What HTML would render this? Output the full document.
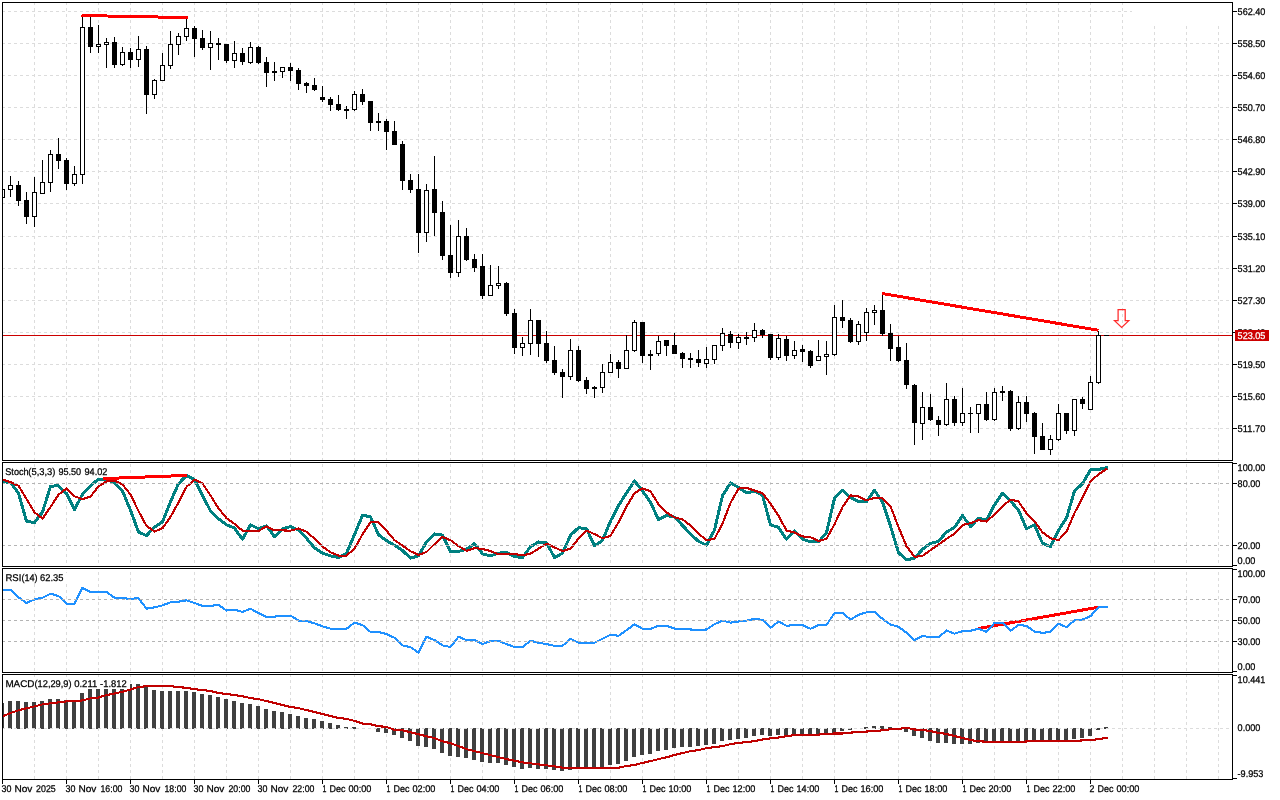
<!DOCTYPE html>
<html><head><meta charset="utf-8"><title>Chart</title>
<style>html,body{margin:0;padding:0;background:#fff;overflow:hidden}svg{display:block;will-change:transform}text{font-family:"Liberation Sans", sans-serif;font-size:9.7px;fill:#000;stroke:#000;stroke-width:0.25px;text-rendering:geometricPrecision}.c{shape-rendering:crispEdges}</style></head><body>
<svg width="1280" height="800" viewBox="0 0 1280 800">
<rect x="0" y="0" width="1280" height="800" fill="#fff"/>
<g id="grid">
<line class="c" x1="34.5" y1="3" x2="34.5" y2="460" stroke="#dcdcdc" stroke-width="1" stroke-dasharray="3 3" stroke-dashoffset="1"/>
<line class="c" x1="66.5" y1="3" x2="66.5" y2="460" stroke="#dcdcdc" stroke-width="1" stroke-dasharray="3 3" stroke-dashoffset="1"/>
<line class="c" x1="98.5" y1="3" x2="98.5" y2="460" stroke="#dcdcdc" stroke-width="1" stroke-dasharray="3 3" stroke-dashoffset="1"/>
<line class="c" x1="130.5" y1="3" x2="130.5" y2="460" stroke="#dcdcdc" stroke-width="1" stroke-dasharray="3 3" stroke-dashoffset="1"/>
<line class="c" x1="162.5" y1="3" x2="162.5" y2="460" stroke="#dcdcdc" stroke-width="1" stroke-dasharray="3 3" stroke-dashoffset="1"/>
<line class="c" x1="194.5" y1="3" x2="194.5" y2="460" stroke="#dcdcdc" stroke-width="1" stroke-dasharray="3 3" stroke-dashoffset="1"/>
<line class="c" x1="226.5" y1="3" x2="226.5" y2="460" stroke="#dcdcdc" stroke-width="1" stroke-dasharray="3 3" stroke-dashoffset="1"/>
<line class="c" x1="258.5" y1="3" x2="258.5" y2="460" stroke="#dcdcdc" stroke-width="1" stroke-dasharray="3 3" stroke-dashoffset="1"/>
<line class="c" x1="290.5" y1="3" x2="290.5" y2="460" stroke="#dcdcdc" stroke-width="1" stroke-dasharray="3 3" stroke-dashoffset="1"/>
<line class="c" x1="322.5" y1="3" x2="322.5" y2="460" stroke="#dcdcdc" stroke-width="1" stroke-dasharray="3 3" stroke-dashoffset="1"/>
<line class="c" x1="354.5" y1="3" x2="354.5" y2="460" stroke="#dcdcdc" stroke-width="1" stroke-dasharray="3 3" stroke-dashoffset="1"/>
<line class="c" x1="386.5" y1="3" x2="386.5" y2="460" stroke="#dcdcdc" stroke-width="1" stroke-dasharray="3 3" stroke-dashoffset="1"/>
<line class="c" x1="418.5" y1="3" x2="418.5" y2="460" stroke="#dcdcdc" stroke-width="1" stroke-dasharray="3 3" stroke-dashoffset="1"/>
<line class="c" x1="450.5" y1="3" x2="450.5" y2="460" stroke="#dcdcdc" stroke-width="1" stroke-dasharray="3 3" stroke-dashoffset="1"/>
<line class="c" x1="482.5" y1="3" x2="482.5" y2="460" stroke="#dcdcdc" stroke-width="1" stroke-dasharray="3 3" stroke-dashoffset="1"/>
<line class="c" x1="514.5" y1="3" x2="514.5" y2="460" stroke="#dcdcdc" stroke-width="1" stroke-dasharray="3 3" stroke-dashoffset="1"/>
<line class="c" x1="546.5" y1="3" x2="546.5" y2="460" stroke="#dcdcdc" stroke-width="1" stroke-dasharray="3 3" stroke-dashoffset="1"/>
<line class="c" x1="578.5" y1="3" x2="578.5" y2="460" stroke="#dcdcdc" stroke-width="1" stroke-dasharray="3 3" stroke-dashoffset="1"/>
<line class="c" x1="610.5" y1="3" x2="610.5" y2="460" stroke="#dcdcdc" stroke-width="1" stroke-dasharray="3 3" stroke-dashoffset="1"/>
<line class="c" x1="642.5" y1="3" x2="642.5" y2="460" stroke="#dcdcdc" stroke-width="1" stroke-dasharray="3 3" stroke-dashoffset="1"/>
<line class="c" x1="674.5" y1="3" x2="674.5" y2="460" stroke="#dcdcdc" stroke-width="1" stroke-dasharray="3 3" stroke-dashoffset="1"/>
<line class="c" x1="706.5" y1="3" x2="706.5" y2="460" stroke="#dcdcdc" stroke-width="1" stroke-dasharray="3 3" stroke-dashoffset="1"/>
<line class="c" x1="738.5" y1="3" x2="738.5" y2="460" stroke="#dcdcdc" stroke-width="1" stroke-dasharray="3 3" stroke-dashoffset="1"/>
<line class="c" x1="770.5" y1="3" x2="770.5" y2="460" stroke="#dcdcdc" stroke-width="1" stroke-dasharray="3 3" stroke-dashoffset="1"/>
<line class="c" x1="802.5" y1="3" x2="802.5" y2="460" stroke="#dcdcdc" stroke-width="1" stroke-dasharray="3 3" stroke-dashoffset="1"/>
<line class="c" x1="834.5" y1="3" x2="834.5" y2="460" stroke="#dcdcdc" stroke-width="1" stroke-dasharray="3 3" stroke-dashoffset="1"/>
<line class="c" x1="866.5" y1="3" x2="866.5" y2="460" stroke="#dcdcdc" stroke-width="1" stroke-dasharray="3 3" stroke-dashoffset="1"/>
<line class="c" x1="898.5" y1="3" x2="898.5" y2="460" stroke="#dcdcdc" stroke-width="1" stroke-dasharray="3 3" stroke-dashoffset="1"/>
<line class="c" x1="930.5" y1="3" x2="930.5" y2="460" stroke="#dcdcdc" stroke-width="1" stroke-dasharray="3 3" stroke-dashoffset="1"/>
<line class="c" x1="962.5" y1="3" x2="962.5" y2="460" stroke="#dcdcdc" stroke-width="1" stroke-dasharray="3 3" stroke-dashoffset="1"/>
<line class="c" x1="994.5" y1="3" x2="994.5" y2="460" stroke="#dcdcdc" stroke-width="1" stroke-dasharray="3 3" stroke-dashoffset="1"/>
<line class="c" x1="1026.5" y1="3" x2="1026.5" y2="460" stroke="#dcdcdc" stroke-width="1" stroke-dasharray="3 3" stroke-dashoffset="1"/>
<line class="c" x1="1058.5" y1="3" x2="1058.5" y2="460" stroke="#dcdcdc" stroke-width="1" stroke-dasharray="3 3" stroke-dashoffset="1"/>
<line class="c" x1="1090.5" y1="3" x2="1090.5" y2="460" stroke="#dcdcdc" stroke-width="1" stroke-dasharray="3 3" stroke-dashoffset="1"/>
<line class="c" x1="1122.5" y1="3" x2="1122.5" y2="460" stroke="#dcdcdc" stroke-width="1" stroke-dasharray="3 3" stroke-dashoffset="1"/>
<line class="c" x1="1154.5" y1="3" x2="1154.5" y2="460" stroke="#dcdcdc" stroke-width="1" stroke-dasharray="3 3" stroke-dashoffset="1"/>
<line class="c" x1="1186.5" y1="3" x2="1186.5" y2="460" stroke="#dcdcdc" stroke-width="1" stroke-dasharray="3 3" stroke-dashoffset="1"/>
<line class="c" x1="1218.5" y1="3" x2="1218.5" y2="460" stroke="#dcdcdc" stroke-width="1" stroke-dasharray="3 3" stroke-dashoffset="1"/>
<line class="c" x1="34.5" y1="463" x2="34.5" y2="566" stroke="#dcdcdc" stroke-width="1" stroke-dasharray="3 3" stroke-dashoffset="5"/>
<line class="c" x1="66.5" y1="463" x2="66.5" y2="566" stroke="#dcdcdc" stroke-width="1" stroke-dasharray="3 3" stroke-dashoffset="5"/>
<line class="c" x1="98.5" y1="463" x2="98.5" y2="566" stroke="#dcdcdc" stroke-width="1" stroke-dasharray="3 3" stroke-dashoffset="5"/>
<line class="c" x1="130.5" y1="463" x2="130.5" y2="566" stroke="#dcdcdc" stroke-width="1" stroke-dasharray="3 3" stroke-dashoffset="5"/>
<line class="c" x1="162.5" y1="463" x2="162.5" y2="566" stroke="#dcdcdc" stroke-width="1" stroke-dasharray="3 3" stroke-dashoffset="5"/>
<line class="c" x1="194.5" y1="463" x2="194.5" y2="566" stroke="#dcdcdc" stroke-width="1" stroke-dasharray="3 3" stroke-dashoffset="5"/>
<line class="c" x1="226.5" y1="463" x2="226.5" y2="566" stroke="#dcdcdc" stroke-width="1" stroke-dasharray="3 3" stroke-dashoffset="5"/>
<line class="c" x1="258.5" y1="463" x2="258.5" y2="566" stroke="#dcdcdc" stroke-width="1" stroke-dasharray="3 3" stroke-dashoffset="5"/>
<line class="c" x1="290.5" y1="463" x2="290.5" y2="566" stroke="#dcdcdc" stroke-width="1" stroke-dasharray="3 3" stroke-dashoffset="5"/>
<line class="c" x1="322.5" y1="463" x2="322.5" y2="566" stroke="#dcdcdc" stroke-width="1" stroke-dasharray="3 3" stroke-dashoffset="5"/>
<line class="c" x1="354.5" y1="463" x2="354.5" y2="566" stroke="#dcdcdc" stroke-width="1" stroke-dasharray="3 3" stroke-dashoffset="5"/>
<line class="c" x1="386.5" y1="463" x2="386.5" y2="566" stroke="#dcdcdc" stroke-width="1" stroke-dasharray="3 3" stroke-dashoffset="5"/>
<line class="c" x1="418.5" y1="463" x2="418.5" y2="566" stroke="#dcdcdc" stroke-width="1" stroke-dasharray="3 3" stroke-dashoffset="5"/>
<line class="c" x1="450.5" y1="463" x2="450.5" y2="566" stroke="#dcdcdc" stroke-width="1" stroke-dasharray="3 3" stroke-dashoffset="5"/>
<line class="c" x1="482.5" y1="463" x2="482.5" y2="566" stroke="#dcdcdc" stroke-width="1" stroke-dasharray="3 3" stroke-dashoffset="5"/>
<line class="c" x1="514.5" y1="463" x2="514.5" y2="566" stroke="#dcdcdc" stroke-width="1" stroke-dasharray="3 3" stroke-dashoffset="5"/>
<line class="c" x1="546.5" y1="463" x2="546.5" y2="566" stroke="#dcdcdc" stroke-width="1" stroke-dasharray="3 3" stroke-dashoffset="5"/>
<line class="c" x1="578.5" y1="463" x2="578.5" y2="566" stroke="#dcdcdc" stroke-width="1" stroke-dasharray="3 3" stroke-dashoffset="5"/>
<line class="c" x1="610.5" y1="463" x2="610.5" y2="566" stroke="#dcdcdc" stroke-width="1" stroke-dasharray="3 3" stroke-dashoffset="5"/>
<line class="c" x1="642.5" y1="463" x2="642.5" y2="566" stroke="#dcdcdc" stroke-width="1" stroke-dasharray="3 3" stroke-dashoffset="5"/>
<line class="c" x1="674.5" y1="463" x2="674.5" y2="566" stroke="#dcdcdc" stroke-width="1" stroke-dasharray="3 3" stroke-dashoffset="5"/>
<line class="c" x1="706.5" y1="463" x2="706.5" y2="566" stroke="#dcdcdc" stroke-width="1" stroke-dasharray="3 3" stroke-dashoffset="5"/>
<line class="c" x1="738.5" y1="463" x2="738.5" y2="566" stroke="#dcdcdc" stroke-width="1" stroke-dasharray="3 3" stroke-dashoffset="5"/>
<line class="c" x1="770.5" y1="463" x2="770.5" y2="566" stroke="#dcdcdc" stroke-width="1" stroke-dasharray="3 3" stroke-dashoffset="5"/>
<line class="c" x1="802.5" y1="463" x2="802.5" y2="566" stroke="#dcdcdc" stroke-width="1" stroke-dasharray="3 3" stroke-dashoffset="5"/>
<line class="c" x1="834.5" y1="463" x2="834.5" y2="566" stroke="#dcdcdc" stroke-width="1" stroke-dasharray="3 3" stroke-dashoffset="5"/>
<line class="c" x1="866.5" y1="463" x2="866.5" y2="566" stroke="#dcdcdc" stroke-width="1" stroke-dasharray="3 3" stroke-dashoffset="5"/>
<line class="c" x1="898.5" y1="463" x2="898.5" y2="566" stroke="#dcdcdc" stroke-width="1" stroke-dasharray="3 3" stroke-dashoffset="5"/>
<line class="c" x1="930.5" y1="463" x2="930.5" y2="566" stroke="#dcdcdc" stroke-width="1" stroke-dasharray="3 3" stroke-dashoffset="5"/>
<line class="c" x1="962.5" y1="463" x2="962.5" y2="566" stroke="#dcdcdc" stroke-width="1" stroke-dasharray="3 3" stroke-dashoffset="5"/>
<line class="c" x1="994.5" y1="463" x2="994.5" y2="566" stroke="#dcdcdc" stroke-width="1" stroke-dasharray="3 3" stroke-dashoffset="5"/>
<line class="c" x1="1026.5" y1="463" x2="1026.5" y2="566" stroke="#dcdcdc" stroke-width="1" stroke-dasharray="3 3" stroke-dashoffset="5"/>
<line class="c" x1="1058.5" y1="463" x2="1058.5" y2="566" stroke="#dcdcdc" stroke-width="1" stroke-dasharray="3 3" stroke-dashoffset="5"/>
<line class="c" x1="1090.5" y1="463" x2="1090.5" y2="566" stroke="#dcdcdc" stroke-width="1" stroke-dasharray="3 3" stroke-dashoffset="5"/>
<line class="c" x1="1122.5" y1="463" x2="1122.5" y2="566" stroke="#dcdcdc" stroke-width="1" stroke-dasharray="3 3" stroke-dashoffset="5"/>
<line class="c" x1="1154.5" y1="463" x2="1154.5" y2="566" stroke="#dcdcdc" stroke-width="1" stroke-dasharray="3 3" stroke-dashoffset="5"/>
<line class="c" x1="1186.5" y1="463" x2="1186.5" y2="566" stroke="#dcdcdc" stroke-width="1" stroke-dasharray="3 3" stroke-dashoffset="5"/>
<line class="c" x1="1218.5" y1="463" x2="1218.5" y2="566" stroke="#dcdcdc" stroke-width="1" stroke-dasharray="3 3" stroke-dashoffset="5"/>
<line class="c" x1="34.5" y1="569" x2="34.5" y2="672" stroke="#dcdcdc" stroke-width="1" stroke-dasharray="3 3" stroke-dashoffset="3"/>
<line class="c" x1="66.5" y1="569" x2="66.5" y2="672" stroke="#dcdcdc" stroke-width="1" stroke-dasharray="3 3" stroke-dashoffset="3"/>
<line class="c" x1="98.5" y1="569" x2="98.5" y2="672" stroke="#dcdcdc" stroke-width="1" stroke-dasharray="3 3" stroke-dashoffset="3"/>
<line class="c" x1="130.5" y1="569" x2="130.5" y2="672" stroke="#dcdcdc" stroke-width="1" stroke-dasharray="3 3" stroke-dashoffset="3"/>
<line class="c" x1="162.5" y1="569" x2="162.5" y2="672" stroke="#dcdcdc" stroke-width="1" stroke-dasharray="3 3" stroke-dashoffset="3"/>
<line class="c" x1="194.5" y1="569" x2="194.5" y2="672" stroke="#dcdcdc" stroke-width="1" stroke-dasharray="3 3" stroke-dashoffset="3"/>
<line class="c" x1="226.5" y1="569" x2="226.5" y2="672" stroke="#dcdcdc" stroke-width="1" stroke-dasharray="3 3" stroke-dashoffset="3"/>
<line class="c" x1="258.5" y1="569" x2="258.5" y2="672" stroke="#dcdcdc" stroke-width="1" stroke-dasharray="3 3" stroke-dashoffset="3"/>
<line class="c" x1="290.5" y1="569" x2="290.5" y2="672" stroke="#dcdcdc" stroke-width="1" stroke-dasharray="3 3" stroke-dashoffset="3"/>
<line class="c" x1="322.5" y1="569" x2="322.5" y2="672" stroke="#dcdcdc" stroke-width="1" stroke-dasharray="3 3" stroke-dashoffset="3"/>
<line class="c" x1="354.5" y1="569" x2="354.5" y2="672" stroke="#dcdcdc" stroke-width="1" stroke-dasharray="3 3" stroke-dashoffset="3"/>
<line class="c" x1="386.5" y1="569" x2="386.5" y2="672" stroke="#dcdcdc" stroke-width="1" stroke-dasharray="3 3" stroke-dashoffset="3"/>
<line class="c" x1="418.5" y1="569" x2="418.5" y2="672" stroke="#dcdcdc" stroke-width="1" stroke-dasharray="3 3" stroke-dashoffset="3"/>
<line class="c" x1="450.5" y1="569" x2="450.5" y2="672" stroke="#dcdcdc" stroke-width="1" stroke-dasharray="3 3" stroke-dashoffset="3"/>
<line class="c" x1="482.5" y1="569" x2="482.5" y2="672" stroke="#dcdcdc" stroke-width="1" stroke-dasharray="3 3" stroke-dashoffset="3"/>
<line class="c" x1="514.5" y1="569" x2="514.5" y2="672" stroke="#dcdcdc" stroke-width="1" stroke-dasharray="3 3" stroke-dashoffset="3"/>
<line class="c" x1="546.5" y1="569" x2="546.5" y2="672" stroke="#dcdcdc" stroke-width="1" stroke-dasharray="3 3" stroke-dashoffset="3"/>
<line class="c" x1="578.5" y1="569" x2="578.5" y2="672" stroke="#dcdcdc" stroke-width="1" stroke-dasharray="3 3" stroke-dashoffset="3"/>
<line class="c" x1="610.5" y1="569" x2="610.5" y2="672" stroke="#dcdcdc" stroke-width="1" stroke-dasharray="3 3" stroke-dashoffset="3"/>
<line class="c" x1="642.5" y1="569" x2="642.5" y2="672" stroke="#dcdcdc" stroke-width="1" stroke-dasharray="3 3" stroke-dashoffset="3"/>
<line class="c" x1="674.5" y1="569" x2="674.5" y2="672" stroke="#dcdcdc" stroke-width="1" stroke-dasharray="3 3" stroke-dashoffset="3"/>
<line class="c" x1="706.5" y1="569" x2="706.5" y2="672" stroke="#dcdcdc" stroke-width="1" stroke-dasharray="3 3" stroke-dashoffset="3"/>
<line class="c" x1="738.5" y1="569" x2="738.5" y2="672" stroke="#dcdcdc" stroke-width="1" stroke-dasharray="3 3" stroke-dashoffset="3"/>
<line class="c" x1="770.5" y1="569" x2="770.5" y2="672" stroke="#dcdcdc" stroke-width="1" stroke-dasharray="3 3" stroke-dashoffset="3"/>
<line class="c" x1="802.5" y1="569" x2="802.5" y2="672" stroke="#dcdcdc" stroke-width="1" stroke-dasharray="3 3" stroke-dashoffset="3"/>
<line class="c" x1="834.5" y1="569" x2="834.5" y2="672" stroke="#dcdcdc" stroke-width="1" stroke-dasharray="3 3" stroke-dashoffset="3"/>
<line class="c" x1="866.5" y1="569" x2="866.5" y2="672" stroke="#dcdcdc" stroke-width="1" stroke-dasharray="3 3" stroke-dashoffset="3"/>
<line class="c" x1="898.5" y1="569" x2="898.5" y2="672" stroke="#dcdcdc" stroke-width="1" stroke-dasharray="3 3" stroke-dashoffset="3"/>
<line class="c" x1="930.5" y1="569" x2="930.5" y2="672" stroke="#dcdcdc" stroke-width="1" stroke-dasharray="3 3" stroke-dashoffset="3"/>
<line class="c" x1="962.5" y1="569" x2="962.5" y2="672" stroke="#dcdcdc" stroke-width="1" stroke-dasharray="3 3" stroke-dashoffset="3"/>
<line class="c" x1="994.5" y1="569" x2="994.5" y2="672" stroke="#dcdcdc" stroke-width="1" stroke-dasharray="3 3" stroke-dashoffset="3"/>
<line class="c" x1="1026.5" y1="569" x2="1026.5" y2="672" stroke="#dcdcdc" stroke-width="1" stroke-dasharray="3 3" stroke-dashoffset="3"/>
<line class="c" x1="1058.5" y1="569" x2="1058.5" y2="672" stroke="#dcdcdc" stroke-width="1" stroke-dasharray="3 3" stroke-dashoffset="3"/>
<line class="c" x1="1090.5" y1="569" x2="1090.5" y2="672" stroke="#dcdcdc" stroke-width="1" stroke-dasharray="3 3" stroke-dashoffset="3"/>
<line class="c" x1="1122.5" y1="569" x2="1122.5" y2="672" stroke="#dcdcdc" stroke-width="1" stroke-dasharray="3 3" stroke-dashoffset="3"/>
<line class="c" x1="1154.5" y1="569" x2="1154.5" y2="672" stroke="#dcdcdc" stroke-width="1" stroke-dasharray="3 3" stroke-dashoffset="3"/>
<line class="c" x1="1186.5" y1="569" x2="1186.5" y2="672" stroke="#dcdcdc" stroke-width="1" stroke-dasharray="3 3" stroke-dashoffset="3"/>
<line class="c" x1="1218.5" y1="569" x2="1218.5" y2="672" stroke="#dcdcdc" stroke-width="1" stroke-dasharray="3 3" stroke-dashoffset="3"/>
<line class="c" x1="34.5" y1="675" x2="34.5" y2="779" stroke="#dcdcdc" stroke-width="1" stroke-dasharray="3 3" stroke-dashoffset="1"/>
<line class="c" x1="66.5" y1="675" x2="66.5" y2="779" stroke="#dcdcdc" stroke-width="1" stroke-dasharray="3 3" stroke-dashoffset="1"/>
<line class="c" x1="98.5" y1="675" x2="98.5" y2="779" stroke="#dcdcdc" stroke-width="1" stroke-dasharray="3 3" stroke-dashoffset="1"/>
<line class="c" x1="130.5" y1="675" x2="130.5" y2="779" stroke="#dcdcdc" stroke-width="1" stroke-dasharray="3 3" stroke-dashoffset="1"/>
<line class="c" x1="162.5" y1="675" x2="162.5" y2="779" stroke="#dcdcdc" stroke-width="1" stroke-dasharray="3 3" stroke-dashoffset="1"/>
<line class="c" x1="194.5" y1="675" x2="194.5" y2="779" stroke="#dcdcdc" stroke-width="1" stroke-dasharray="3 3" stroke-dashoffset="1"/>
<line class="c" x1="226.5" y1="675" x2="226.5" y2="779" stroke="#dcdcdc" stroke-width="1" stroke-dasharray="3 3" stroke-dashoffset="1"/>
<line class="c" x1="258.5" y1="675" x2="258.5" y2="779" stroke="#dcdcdc" stroke-width="1" stroke-dasharray="3 3" stroke-dashoffset="1"/>
<line class="c" x1="290.5" y1="675" x2="290.5" y2="779" stroke="#dcdcdc" stroke-width="1" stroke-dasharray="3 3" stroke-dashoffset="1"/>
<line class="c" x1="322.5" y1="675" x2="322.5" y2="779" stroke="#dcdcdc" stroke-width="1" stroke-dasharray="3 3" stroke-dashoffset="1"/>
<line class="c" x1="354.5" y1="675" x2="354.5" y2="779" stroke="#dcdcdc" stroke-width="1" stroke-dasharray="3 3" stroke-dashoffset="1"/>
<line class="c" x1="386.5" y1="675" x2="386.5" y2="779" stroke="#dcdcdc" stroke-width="1" stroke-dasharray="3 3" stroke-dashoffset="1"/>
<line class="c" x1="418.5" y1="675" x2="418.5" y2="779" stroke="#dcdcdc" stroke-width="1" stroke-dasharray="3 3" stroke-dashoffset="1"/>
<line class="c" x1="450.5" y1="675" x2="450.5" y2="779" stroke="#dcdcdc" stroke-width="1" stroke-dasharray="3 3" stroke-dashoffset="1"/>
<line class="c" x1="482.5" y1="675" x2="482.5" y2="779" stroke="#dcdcdc" stroke-width="1" stroke-dasharray="3 3" stroke-dashoffset="1"/>
<line class="c" x1="514.5" y1="675" x2="514.5" y2="779" stroke="#dcdcdc" stroke-width="1" stroke-dasharray="3 3" stroke-dashoffset="1"/>
<line class="c" x1="546.5" y1="675" x2="546.5" y2="779" stroke="#dcdcdc" stroke-width="1" stroke-dasharray="3 3" stroke-dashoffset="1"/>
<line class="c" x1="578.5" y1="675" x2="578.5" y2="779" stroke="#dcdcdc" stroke-width="1" stroke-dasharray="3 3" stroke-dashoffset="1"/>
<line class="c" x1="610.5" y1="675" x2="610.5" y2="779" stroke="#dcdcdc" stroke-width="1" stroke-dasharray="3 3" stroke-dashoffset="1"/>
<line class="c" x1="642.5" y1="675" x2="642.5" y2="779" stroke="#dcdcdc" stroke-width="1" stroke-dasharray="3 3" stroke-dashoffset="1"/>
<line class="c" x1="674.5" y1="675" x2="674.5" y2="779" stroke="#dcdcdc" stroke-width="1" stroke-dasharray="3 3" stroke-dashoffset="1"/>
<line class="c" x1="706.5" y1="675" x2="706.5" y2="779" stroke="#dcdcdc" stroke-width="1" stroke-dasharray="3 3" stroke-dashoffset="1"/>
<line class="c" x1="738.5" y1="675" x2="738.5" y2="779" stroke="#dcdcdc" stroke-width="1" stroke-dasharray="3 3" stroke-dashoffset="1"/>
<line class="c" x1="770.5" y1="675" x2="770.5" y2="779" stroke="#dcdcdc" stroke-width="1" stroke-dasharray="3 3" stroke-dashoffset="1"/>
<line class="c" x1="802.5" y1="675" x2="802.5" y2="779" stroke="#dcdcdc" stroke-width="1" stroke-dasharray="3 3" stroke-dashoffset="1"/>
<line class="c" x1="834.5" y1="675" x2="834.5" y2="779" stroke="#dcdcdc" stroke-width="1" stroke-dasharray="3 3" stroke-dashoffset="1"/>
<line class="c" x1="866.5" y1="675" x2="866.5" y2="779" stroke="#dcdcdc" stroke-width="1" stroke-dasharray="3 3" stroke-dashoffset="1"/>
<line class="c" x1="898.5" y1="675" x2="898.5" y2="779" stroke="#dcdcdc" stroke-width="1" stroke-dasharray="3 3" stroke-dashoffset="1"/>
<line class="c" x1="930.5" y1="675" x2="930.5" y2="779" stroke="#dcdcdc" stroke-width="1" stroke-dasharray="3 3" stroke-dashoffset="1"/>
<line class="c" x1="962.5" y1="675" x2="962.5" y2="779" stroke="#dcdcdc" stroke-width="1" stroke-dasharray="3 3" stroke-dashoffset="1"/>
<line class="c" x1="994.5" y1="675" x2="994.5" y2="779" stroke="#dcdcdc" stroke-width="1" stroke-dasharray="3 3" stroke-dashoffset="1"/>
<line class="c" x1="1026.5" y1="675" x2="1026.5" y2="779" stroke="#dcdcdc" stroke-width="1" stroke-dasharray="3 3" stroke-dashoffset="1"/>
<line class="c" x1="1058.5" y1="675" x2="1058.5" y2="779" stroke="#dcdcdc" stroke-width="1" stroke-dasharray="3 3" stroke-dashoffset="1"/>
<line class="c" x1="1090.5" y1="675" x2="1090.5" y2="779" stroke="#dcdcdc" stroke-width="1" stroke-dasharray="3 3" stroke-dashoffset="1"/>
<line class="c" x1="1122.5" y1="675" x2="1122.5" y2="779" stroke="#dcdcdc" stroke-width="1" stroke-dasharray="3 3" stroke-dashoffset="1"/>
<line class="c" x1="1154.5" y1="675" x2="1154.5" y2="779" stroke="#dcdcdc" stroke-width="1" stroke-dasharray="3 3" stroke-dashoffset="1"/>
<line class="c" x1="1186.5" y1="675" x2="1186.5" y2="779" stroke="#dcdcdc" stroke-width="1" stroke-dasharray="3 3" stroke-dashoffset="1"/>
<line class="c" x1="1218.5" y1="675" x2="1218.5" y2="779" stroke="#dcdcdc" stroke-width="1" stroke-dasharray="3 3" stroke-dashoffset="1"/>
<line class="c" x1="3" y1="11.5" x2="1232" y2="11.5" stroke="#dcdcdc" stroke-width="1" stroke-dasharray="3 3" stroke-dashoffset="1"/>
<line class="c" x1="3" y1="43.5" x2="1232" y2="43.5" stroke="#dcdcdc" stroke-width="1" stroke-dasharray="3 3" stroke-dashoffset="1"/>
<line class="c" x1="3" y1="75.5" x2="1232" y2="75.5" stroke="#dcdcdc" stroke-width="1" stroke-dasharray="3 3" stroke-dashoffset="1"/>
<line class="c" x1="3" y1="107.5" x2="1232" y2="107.5" stroke="#dcdcdc" stroke-width="1" stroke-dasharray="3 3" stroke-dashoffset="1"/>
<line class="c" x1="3" y1="139.5" x2="1232" y2="139.5" stroke="#dcdcdc" stroke-width="1" stroke-dasharray="3 3" stroke-dashoffset="1"/>
<line class="c" x1="3" y1="171.5" x2="1232" y2="171.5" stroke="#dcdcdc" stroke-width="1" stroke-dasharray="3 3" stroke-dashoffset="1"/>
<line class="c" x1="3" y1="203.5" x2="1232" y2="203.5" stroke="#dcdcdc" stroke-width="1" stroke-dasharray="3 3" stroke-dashoffset="1"/>
<line class="c" x1="3" y1="236.5" x2="1232" y2="236.5" stroke="#dcdcdc" stroke-width="1" stroke-dasharray="3 3" stroke-dashoffset="1"/>
<line class="c" x1="3" y1="268.5" x2="1232" y2="268.5" stroke="#dcdcdc" stroke-width="1" stroke-dasharray="3 3" stroke-dashoffset="1"/>
<line class="c" x1="3" y1="300.5" x2="1232" y2="300.5" stroke="#dcdcdc" stroke-width="1" stroke-dasharray="3 3" stroke-dashoffset="1"/>
<line class="c" x1="3" y1="332.5" x2="1232" y2="332.5" stroke="#dcdcdc" stroke-width="1" stroke-dasharray="3 3" stroke-dashoffset="1"/>
<line class="c" x1="3" y1="364.5" x2="1232" y2="364.5" stroke="#dcdcdc" stroke-width="1" stroke-dasharray="3 3" stroke-dashoffset="1"/>
<line class="c" x1="3" y1="396.5" x2="1232" y2="396.5" stroke="#dcdcdc" stroke-width="1" stroke-dasharray="3 3" stroke-dashoffset="1"/>
<line class="c" x1="3" y1="428.5" x2="1232" y2="428.5" stroke="#dcdcdc" stroke-width="1" stroke-dasharray="3 3" stroke-dashoffset="1"/>
</g>
<rect class="c" x="1132" y="3" width="100" height="23" fill="#fff"/>
<line class="c" x1="3" y1="335.5" x2="1232" y2="335.5" stroke="#cc0000" stroke-width="1"/>
<g id="candles" class="c">
<clipPath id="cm"><rect x="3" y="3" width="1229" height="457"/></clipPath>
<g clip-path="url(#cm)">
<rect x="2" y="189" width="1" height="9" fill="#000"/>
<rect x="0" y="189" width="5" height="9" fill="#000"/>
<rect x="1" y="190" width="3" height="7" fill="#fff"/>
<rect x="10" y="176" width="1" height="21" fill="#000"/>
<rect x="8" y="185" width="5" height="5" fill="#000"/>
<rect x="9" y="186" width="3" height="3" fill="#fff"/>
<rect x="18" y="181" width="1" height="25" fill="#000"/>
<rect x="16" y="185" width="5" height="16" fill="#000"/>
<rect x="26" y="192" width="1" height="32" fill="#000"/>
<rect x="24" y="200" width="5" height="17" fill="#000"/>
<rect x="34" y="177" width="1" height="50" fill="#000"/>
<rect x="32" y="192" width="5" height="25" fill="#000"/>
<rect x="33" y="193" width="3" height="23" fill="#fff"/>
<rect x="42" y="160" width="1" height="34" fill="#000"/>
<rect x="40" y="182" width="5" height="12" fill="#000"/>
<rect x="41" y="183" width="3" height="10" fill="#fff"/>
<rect x="50" y="150" width="1" height="42" fill="#000"/>
<rect x="48" y="154" width="5" height="29" fill="#000"/>
<rect x="49" y="155" width="3" height="27" fill="#fff"/>
<rect x="58" y="138" width="1" height="31" fill="#000"/>
<rect x="56" y="154" width="5" height="7" fill="#000"/>
<rect x="66" y="158" width="1" height="32" fill="#000"/>
<rect x="64" y="160" width="5" height="24" fill="#000"/>
<rect x="74" y="166" width="1" height="20" fill="#000"/>
<rect x="72" y="174" width="5" height="10" fill="#000"/>
<rect x="73" y="175" width="3" height="8" fill="#fff"/>
<rect x="82" y="15" width="1" height="169" fill="#000"/>
<rect x="80" y="27" width="5" height="148" fill="#000"/>
<rect x="81" y="28" width="3" height="146" fill="#fff"/>
<rect x="90" y="15" width="1" height="38" fill="#000"/>
<rect x="88" y="27" width="5" height="20" fill="#000"/>
<rect x="98" y="25" width="1" height="28" fill="#000"/>
<rect x="96" y="44" width="5" height="3" fill="#000"/>
<rect x="97" y="45" width="3" height="1" fill="#fff"/>
<rect x="106" y="38" width="1" height="30" fill="#000"/>
<rect x="104" y="42" width="5" height="3" fill="#000"/>
<rect x="105" y="43" width="3" height="1" fill="#fff"/>
<rect x="114" y="37" width="1" height="31" fill="#000"/>
<rect x="112" y="42" width="5" height="23" fill="#000"/>
<rect x="122" y="47" width="1" height="19" fill="#000"/>
<rect x="120" y="52" width="5" height="13" fill="#000"/>
<rect x="121" y="53" width="3" height="11" fill="#fff"/>
<rect x="130" y="48" width="1" height="20" fill="#000"/>
<rect x="128" y="52" width="5" height="8" fill="#000"/>
<rect x="138" y="36" width="1" height="31" fill="#000"/>
<rect x="136" y="49" width="5" height="11" fill="#000"/>
<rect x="137" y="50" width="3" height="9" fill="#fff"/>
<rect x="146" y="46" width="1" height="68" fill="#000"/>
<rect x="144" y="49" width="5" height="46" fill="#000"/>
<rect x="154" y="79" width="1" height="20" fill="#000"/>
<rect x="152" y="80" width="5" height="15" fill="#000"/>
<rect x="153" y="81" width="3" height="13" fill="#fff"/>
<rect x="162" y="53" width="1" height="28" fill="#000"/>
<rect x="160" y="65" width="5" height="16" fill="#000"/>
<rect x="161" y="66" width="3" height="14" fill="#fff"/>
<rect x="170" y="31" width="1" height="38" fill="#000"/>
<rect x="168" y="44" width="5" height="22" fill="#000"/>
<rect x="169" y="45" width="3" height="20" fill="#fff"/>
<rect x="178" y="33" width="1" height="22" fill="#000"/>
<rect x="176" y="36" width="5" height="9" fill="#000"/>
<rect x="177" y="37" width="3" height="7" fill="#fff"/>
<rect x="186" y="17" width="1" height="24" fill="#000"/>
<rect x="184" y="28" width="5" height="9" fill="#000"/>
<rect x="185" y="29" width="3" height="7" fill="#fff"/>
<rect x="194" y="26" width="1" height="31" fill="#000"/>
<rect x="192" y="28" width="5" height="11" fill="#000"/>
<rect x="202" y="30" width="1" height="20" fill="#000"/>
<rect x="200" y="38" width="5" height="10" fill="#000"/>
<rect x="210" y="31" width="1" height="39" fill="#000"/>
<rect x="208" y="43" width="5" height="5" fill="#000"/>
<rect x="209" y="44" width="3" height="3" fill="#fff"/>
<rect x="218" y="38" width="1" height="22" fill="#000"/>
<rect x="216" y="43" width="5" height="2" fill="#000"/>
<rect x="226" y="44" width="1" height="19" fill="#000"/>
<rect x="224" y="44" width="5" height="17" fill="#000"/>
<rect x="234" y="41" width="1" height="27" fill="#000"/>
<rect x="232" y="53" width="5" height="8" fill="#000"/>
<rect x="233" y="54" width="3" height="6" fill="#fff"/>
<rect x="242" y="48" width="1" height="17" fill="#000"/>
<rect x="240" y="53" width="5" height="9" fill="#000"/>
<rect x="250" y="42" width="1" height="22" fill="#000"/>
<rect x="248" y="47" width="5" height="16" fill="#000"/>
<rect x="249" y="48" width="3" height="14" fill="#fff"/>
<rect x="258" y="46" width="1" height="18" fill="#000"/>
<rect x="256" y="47" width="5" height="16" fill="#000"/>
<rect x="266" y="57" width="1" height="30" fill="#000"/>
<rect x="264" y="62" width="5" height="11" fill="#000"/>
<rect x="274" y="62" width="1" height="19" fill="#000"/>
<rect x="272" y="71" width="5" height="2" fill="#000"/>
<rect x="282" y="67" width="1" height="11" fill="#000"/>
<rect x="280" y="67" width="5" height="5" fill="#000"/>
<rect x="281" y="68" width="3" height="3" fill="#fff"/>
<rect x="290" y="63" width="1" height="18" fill="#000"/>
<rect x="288" y="67" width="5" height="4" fill="#000"/>
<rect x="298" y="68" width="1" height="22" fill="#000"/>
<rect x="296" y="70" width="5" height="14" fill="#000"/>
<rect x="306" y="82" width="1" height="11" fill="#000"/>
<rect x="304" y="83" width="5" height="3" fill="#000"/>
<rect x="314" y="78" width="1" height="13" fill="#000"/>
<rect x="312" y="85" width="5" height="5" fill="#000"/>
<rect x="322" y="86" width="1" height="16" fill="#000"/>
<rect x="320" y="97" width="5" height="3" fill="#000"/>
<rect x="330" y="97" width="1" height="14" fill="#000"/>
<rect x="328" y="99" width="5" height="6" fill="#000"/>
<rect x="338" y="95" width="1" height="16" fill="#000"/>
<rect x="336" y="104" width="5" height="6" fill="#000"/>
<rect x="346" y="106" width="1" height="13" fill="#000"/>
<rect x="344" y="109" width="5" height="2" fill="#000"/>
<rect x="354" y="91" width="1" height="20" fill="#000"/>
<rect x="352" y="94" width="5" height="16" fill="#000"/>
<rect x="353" y="95" width="3" height="14" fill="#fff"/>
<rect x="362" y="89" width="1" height="16" fill="#000"/>
<rect x="360" y="94" width="5" height="8" fill="#000"/>
<rect x="370" y="101" width="1" height="30" fill="#000"/>
<rect x="368" y="101" width="5" height="22" fill="#000"/>
<rect x="378" y="113" width="1" height="18" fill="#000"/>
<rect x="376" y="121" width="5" height="2" fill="#000"/>
<rect x="386" y="119" width="1" height="31" fill="#000"/>
<rect x="384" y="121" width="5" height="11" fill="#000"/>
<rect x="394" y="121" width="1" height="24" fill="#000"/>
<rect x="392" y="131" width="5" height="14" fill="#000"/>
<rect x="402" y="141" width="1" height="49" fill="#000"/>
<rect x="400" y="144" width="5" height="37" fill="#000"/>
<rect x="410" y="174" width="1" height="19" fill="#000"/>
<rect x="408" y="180" width="5" height="10" fill="#000"/>
<rect x="418" y="174" width="1" height="79" fill="#000"/>
<rect x="416" y="189" width="5" height="44" fill="#000"/>
<rect x="426" y="184" width="1" height="58" fill="#000"/>
<rect x="424" y="190" width="5" height="43" fill="#000"/>
<rect x="425" y="191" width="3" height="41" fill="#fff"/>
<rect x="434" y="156" width="1" height="80" fill="#000"/>
<rect x="432" y="189" width="5" height="24" fill="#000"/>
<rect x="442" y="201" width="1" height="59" fill="#000"/>
<rect x="440" y="212" width="5" height="44" fill="#000"/>
<rect x="450" y="225" width="1" height="53" fill="#000"/>
<rect x="448" y="255" width="5" height="18" fill="#000"/>
<rect x="458" y="220" width="1" height="57" fill="#000"/>
<rect x="456" y="236" width="5" height="37" fill="#000"/>
<rect x="457" y="237" width="3" height="35" fill="#fff"/>
<rect x="466" y="228" width="1" height="33" fill="#000"/>
<rect x="464" y="236" width="5" height="24" fill="#000"/>
<rect x="474" y="254" width="1" height="18" fill="#000"/>
<rect x="472" y="259" width="5" height="9" fill="#000"/>
<rect x="482" y="254" width="1" height="45" fill="#000"/>
<rect x="480" y="266" width="5" height="30" fill="#000"/>
<rect x="490" y="265" width="1" height="31" fill="#000"/>
<rect x="488" y="285" width="5" height="11" fill="#000"/>
<rect x="489" y="286" width="3" height="9" fill="#fff"/>
<rect x="498" y="266" width="1" height="23" fill="#000"/>
<rect x="496" y="283" width="5" height="3" fill="#000"/>
<rect x="497" y="284" width="3" height="1" fill="#fff"/>
<rect x="506" y="282" width="1" height="34" fill="#000"/>
<rect x="504" y="283" width="5" height="31" fill="#000"/>
<rect x="514" y="309" width="1" height="45" fill="#000"/>
<rect x="512" y="313" width="5" height="35" fill="#000"/>
<rect x="522" y="337" width="1" height="19" fill="#000"/>
<rect x="520" y="343" width="5" height="5" fill="#000"/>
<rect x="521" y="344" width="3" height="3" fill="#fff"/>
<rect x="530" y="309" width="1" height="46" fill="#000"/>
<rect x="528" y="320" width="5" height="24" fill="#000"/>
<rect x="529" y="321" width="3" height="22" fill="#fff"/>
<rect x="538" y="320" width="1" height="37" fill="#000"/>
<rect x="536" y="320" width="5" height="24" fill="#000"/>
<rect x="546" y="331" width="1" height="32" fill="#000"/>
<rect x="544" y="343" width="5" height="18" fill="#000"/>
<rect x="554" y="346" width="1" height="29" fill="#000"/>
<rect x="552" y="360" width="5" height="13" fill="#000"/>
<rect x="562" y="369" width="1" height="29" fill="#000"/>
<rect x="560" y="372" width="5" height="5" fill="#000"/>
<rect x="570" y="339" width="1" height="41" fill="#000"/>
<rect x="568" y="350" width="5" height="27" fill="#000"/>
<rect x="569" y="351" width="3" height="25" fill="#fff"/>
<rect x="578" y="346" width="1" height="36" fill="#000"/>
<rect x="576" y="350" width="5" height="31" fill="#000"/>
<rect x="586" y="377" width="1" height="17" fill="#000"/>
<rect x="584" y="380" width="5" height="9" fill="#000"/>
<rect x="594" y="386" width="1" height="12" fill="#000"/>
<rect x="592" y="387" width="5" height="2" fill="#000"/>
<rect x="602" y="364" width="1" height="29" fill="#000"/>
<rect x="600" y="372" width="5" height="16" fill="#000"/>
<rect x="601" y="373" width="3" height="14" fill="#fff"/>
<rect x="610" y="354" width="1" height="19" fill="#000"/>
<rect x="608" y="362" width="5" height="11" fill="#000"/>
<rect x="609" y="363" width="3" height="9" fill="#fff"/>
<rect x="618" y="360" width="1" height="18" fill="#000"/>
<rect x="616" y="362" width="5" height="7" fill="#000"/>
<rect x="626" y="335" width="1" height="34" fill="#000"/>
<rect x="624" y="350" width="5" height="19" fill="#000"/>
<rect x="625" y="351" width="3" height="17" fill="#fff"/>
<rect x="634" y="320" width="1" height="32" fill="#000"/>
<rect x="632" y="322" width="5" height="29" fill="#000"/>
<rect x="633" y="323" width="3" height="27" fill="#fff"/>
<rect x="642" y="322" width="1" height="41" fill="#000"/>
<rect x="640" y="322" width="5" height="34" fill="#000"/>
<rect x="650" y="350" width="1" height="20" fill="#000"/>
<rect x="648" y="354" width="5" height="2" fill="#000"/>
<rect x="658" y="336" width="1" height="20" fill="#000"/>
<rect x="656" y="341" width="5" height="13" fill="#000"/>
<rect x="657" y="342" width="3" height="11" fill="#fff"/>
<rect x="666" y="340" width="1" height="16" fill="#000"/>
<rect x="664" y="340" width="5" height="6" fill="#000"/>
<rect x="674" y="333" width="1" height="21" fill="#000"/>
<rect x="672" y="345" width="5" height="9" fill="#000"/>
<rect x="682" y="352" width="1" height="16" fill="#000"/>
<rect x="680" y="353" width="5" height="6" fill="#000"/>
<rect x="690" y="353" width="1" height="15" fill="#000"/>
<rect x="688" y="358" width="5" height="2" fill="#000"/>
<rect x="698" y="350" width="1" height="17" fill="#000"/>
<rect x="696" y="359" width="5" height="4" fill="#000"/>
<rect x="706" y="347" width="1" height="21" fill="#000"/>
<rect x="704" y="359" width="5" height="5" fill="#000"/>
<rect x="705" y="360" width="3" height="3" fill="#fff"/>
<rect x="714" y="345" width="1" height="19" fill="#000"/>
<rect x="712" y="345" width="5" height="15" fill="#000"/>
<rect x="713" y="346" width="3" height="13" fill="#fff"/>
<rect x="722" y="328" width="1" height="23" fill="#000"/>
<rect x="720" y="333" width="5" height="13" fill="#000"/>
<rect x="721" y="334" width="3" height="11" fill="#fff"/>
<rect x="730" y="331" width="1" height="17" fill="#000"/>
<rect x="728" y="334" width="5" height="9" fill="#000"/>
<rect x="738" y="334" width="1" height="15" fill="#000"/>
<rect x="736" y="337" width="5" height="6" fill="#000"/>
<rect x="737" y="338" width="3" height="4" fill="#fff"/>
<rect x="746" y="332" width="1" height="13" fill="#000"/>
<rect x="744" y="337" width="5" height="2" fill="#000"/>
<rect x="754" y="323" width="1" height="19" fill="#000"/>
<rect x="752" y="330" width="5" height="8" fill="#000"/>
<rect x="753" y="331" width="3" height="6" fill="#fff"/>
<rect x="762" y="329" width="1" height="9" fill="#000"/>
<rect x="760" y="330" width="5" height="5" fill="#000"/>
<rect x="770" y="334" width="1" height="26" fill="#000"/>
<rect x="768" y="334" width="5" height="24" fill="#000"/>
<rect x="778" y="334" width="1" height="26" fill="#000"/>
<rect x="776" y="338" width="5" height="20" fill="#000"/>
<rect x="777" y="339" width="3" height="18" fill="#fff"/>
<rect x="786" y="336" width="1" height="25" fill="#000"/>
<rect x="784" y="339" width="5" height="17" fill="#000"/>
<rect x="794" y="341" width="1" height="18" fill="#000"/>
<rect x="792" y="350" width="5" height="6" fill="#000"/>
<rect x="793" y="351" width="3" height="4" fill="#fff"/>
<rect x="802" y="345" width="1" height="17" fill="#000"/>
<rect x="800" y="349" width="5" height="3" fill="#000"/>
<rect x="810" y="350" width="1" height="18" fill="#000"/>
<rect x="808" y="351" width="5" height="15" fill="#000"/>
<rect x="818" y="340" width="1" height="21" fill="#000"/>
<rect x="816" y="356" width="5" height="5" fill="#000"/>
<rect x="817" y="357" width="3" height="3" fill="#fff"/>
<rect x="826" y="341" width="1" height="34" fill="#000"/>
<rect x="824" y="354" width="5" height="3" fill="#000"/>
<rect x="825" y="355" width="3" height="1" fill="#fff"/>
<rect x="834" y="305" width="1" height="51" fill="#000"/>
<rect x="832" y="317" width="5" height="38" fill="#000"/>
<rect x="833" y="318" width="3" height="36" fill="#fff"/>
<rect x="842" y="300" width="1" height="28" fill="#000"/>
<rect x="840" y="317" width="5" height="4" fill="#000"/>
<rect x="850" y="318" width="1" height="25" fill="#000"/>
<rect x="848" y="320" width="5" height="22" fill="#000"/>
<rect x="858" y="321" width="1" height="24" fill="#000"/>
<rect x="856" y="324" width="5" height="18" fill="#000"/>
<rect x="857" y="325" width="3" height="16" fill="#fff"/>
<rect x="866" y="308" width="1" height="33" fill="#000"/>
<rect x="864" y="312" width="5" height="21" fill="#000"/>
<rect x="865" y="313" width="3" height="19" fill="#fff"/>
<rect x="874" y="305" width="1" height="20" fill="#000"/>
<rect x="872" y="310" width="5" height="3" fill="#000"/>
<rect x="873" y="311" width="3" height="1" fill="#fff"/>
<rect x="882" y="293" width="1" height="43" fill="#000"/>
<rect x="880" y="310" width="5" height="24" fill="#000"/>
<rect x="890" y="324" width="1" height="37" fill="#000"/>
<rect x="888" y="333" width="5" height="16" fill="#000"/>
<rect x="898" y="336" width="1" height="26" fill="#000"/>
<rect x="896" y="347" width="5" height="14" fill="#000"/>
<rect x="906" y="343" width="1" height="46" fill="#000"/>
<rect x="904" y="360" width="5" height="25" fill="#000"/>
<rect x="914" y="384" width="1" height="61" fill="#000"/>
<rect x="912" y="385" width="5" height="38" fill="#000"/>
<rect x="922" y="392" width="1" height="48" fill="#000"/>
<rect x="920" y="407" width="5" height="17" fill="#000"/>
<rect x="921" y="408" width="3" height="15" fill="#fff"/>
<rect x="930" y="394" width="1" height="27" fill="#000"/>
<rect x="928" y="407" width="5" height="13" fill="#000"/>
<rect x="938" y="416" width="1" height="20" fill="#000"/>
<rect x="936" y="420" width="5" height="5" fill="#000"/>
<rect x="946" y="383" width="1" height="43" fill="#000"/>
<rect x="944" y="399" width="5" height="26" fill="#000"/>
<rect x="945" y="400" width="3" height="24" fill="#fff"/>
<rect x="954" y="396" width="1" height="30" fill="#000"/>
<rect x="952" y="399" width="5" height="24" fill="#000"/>
<rect x="962" y="388" width="1" height="38" fill="#000"/>
<rect x="960" y="413" width="5" height="10" fill="#000"/>
<rect x="961" y="414" width="3" height="8" fill="#fff"/>
<rect x="970" y="407" width="1" height="26" fill="#000"/>
<rect x="968" y="413" width="5" height="1" fill="#000"/>
<rect x="978" y="404" width="1" height="29" fill="#000"/>
<rect x="976" y="404" width="5" height="10" fill="#000"/>
<rect x="977" y="405" width="3" height="8" fill="#fff"/>
<rect x="986" y="392" width="1" height="29" fill="#000"/>
<rect x="984" y="404" width="5" height="16" fill="#000"/>
<rect x="994" y="388" width="1" height="33" fill="#000"/>
<rect x="992" y="392" width="5" height="28" fill="#000"/>
<rect x="993" y="393" width="3" height="26" fill="#fff"/>
<rect x="1002" y="386" width="1" height="15" fill="#000"/>
<rect x="1000" y="391" width="5" height="2" fill="#000"/>
<rect x="1010" y="390" width="1" height="41" fill="#000"/>
<rect x="1008" y="391" width="5" height="38" fill="#000"/>
<rect x="1018" y="396" width="1" height="34" fill="#000"/>
<rect x="1016" y="402" width="5" height="27" fill="#000"/>
<rect x="1017" y="403" width="3" height="25" fill="#fff"/>
<rect x="1026" y="396" width="1" height="26" fill="#000"/>
<rect x="1024" y="402" width="5" height="12" fill="#000"/>
<rect x="1034" y="412" width="1" height="42" fill="#000"/>
<rect x="1032" y="413" width="5" height="24" fill="#000"/>
<rect x="1042" y="423" width="1" height="27" fill="#000"/>
<rect x="1040" y="436" width="5" height="14" fill="#000"/>
<rect x="1050" y="435" width="1" height="20" fill="#000"/>
<rect x="1048" y="439" width="5" height="11" fill="#000"/>
<rect x="1049" y="440" width="3" height="9" fill="#fff"/>
<rect x="1058" y="404" width="1" height="37" fill="#000"/>
<rect x="1056" y="413" width="5" height="27" fill="#000"/>
<rect x="1057" y="414" width="3" height="25" fill="#fff"/>
<rect x="1066" y="413" width="1" height="21" fill="#000"/>
<rect x="1064" y="413" width="5" height="18" fill="#000"/>
<rect x="1074" y="399" width="1" height="37" fill="#000"/>
<rect x="1072" y="399" width="5" height="32" fill="#000"/>
<rect x="1073" y="400" width="3" height="30" fill="#fff"/>
<rect x="1082" y="397" width="1" height="12" fill="#000"/>
<rect x="1080" y="399" width="5" height="5" fill="#000"/>
<rect x="1090" y="376" width="1" height="34" fill="#000"/>
<rect x="1088" y="382" width="5" height="28" fill="#000"/>
<rect x="1089" y="383" width="3" height="26" fill="#fff"/>
<rect x="1098" y="331" width="1" height="53" fill="#000"/>
<rect x="1096" y="335" width="5" height="48" fill="#000"/>
<rect x="1097" y="336" width="3" height="46" fill="#fff"/>
<rect x="1104" y="335" width="5" height="1" fill="#000"/>
</g></g>
<line class="c" x1="81.5" y1="15.5" x2="188.0" y2="17.6" stroke="#ff0000" stroke-width="3.0"/>
<line class="c" x1="882.0" y1="293.5" x2="1098.5" y2="330.3" stroke="#ff0000" stroke-width="3.0"/>
<path d="M1118.1 309.6 H1125.2 V320.6 H1128.8 L1121.65 327.5 L1114.5 320.6 H1118.1 Z" fill="none" stroke="#ff2a2a" stroke-width="1.25" stroke-linejoin="miter"/>
<clipPath id="c1"><rect x="3" y="463" width="1229" height="103"/></clipPath>
<g clip-path="url(#c1)">
<polyline class="c" points="2.5,481.7 10.5,482.4 18.5,493.0 26.5,521.3 34.5,522.5 42.5,512.1 50.5,486.3 58.5,485.7 66.5,493.6 74.5,509.5 82.5,494.3 90.5,485.7 98.5,479.1 106.5,479.7 114.5,482.4 122.5,491.0 130.5,510.2 138.5,532.0 146.5,535.6 154.5,527.0 162.5,522.0 170.5,501.6 178.5,483.7 186.5,475.5 194.5,479.7 202.5,495.6 210.5,510.8 218.5,518.8 226.5,524.8 234.5,528.1 242.5,539.3 250.5,524.8 258.5,528.7 266.5,525.8 274.5,536.7 282.5,528.7 290.5,526.7 298.5,530.0 306.5,538.3 314.5,547.9 322.5,553.2 330.5,555.9 338.5,557.6 346.5,553.2 354.5,534.7 362.5,515.2 370.5,516.8 378.5,534.7 386.5,540.6 394.5,545.3 402.5,550.6 410.5,558.1 418.5,555.9 426.5,542.0 434.5,534.0 442.5,535.1 450.5,551.5 458.5,551.5 466.5,549.3 474.5,543.6 482.5,553.9 490.5,555.9 498.5,553.2 506.5,552.2 514.5,556.5 522.5,557.6 530.5,546.6 538.5,542.0 546.5,542.6 554.5,557.6 562.5,553.2 570.5,535.3 578.5,527.7 586.5,528.7 594.5,545.9 602.5,540.3 610.5,521.1 618.5,505.5 626.5,493.0 634.5,481.0 642.5,491.0 650.5,502.2 658.5,519.7 666.5,515.5 674.5,517.1 682.5,525.4 690.5,534.0 698.5,541.3 706.5,545.3 714.5,530.0 722.5,495.6 730.5,483.0 738.5,487.3 746.5,493.0 754.5,491.0 762.5,495.3 770.5,524.8 778.5,527.4 786.5,539.3 794.5,530.7 802.5,539.3 810.5,541.7 818.5,542.0 826.5,532.7 834.5,498.3 842.5,490.3 850.5,497.6 858.5,501.6 866.5,501.6 874.5,490.3 882.5,502.2 890.5,526.1 898.5,552.6 906.5,559.9 914.5,558.1 922.5,549.3 930.5,543.3 938.5,541.3 946.5,532.0 954.5,527.4 962.5,515.5 970.5,526.7 978.5,518.1 986.5,520.1 994.5,504.9 1002.5,493.2 1010.5,500.9 1018.5,510.2 1026.5,528.7 1034.5,524.8 1042.5,543.3 1050.5,546.6 1058.5,530.3 1066.5,518.1 1074.5,491.0 1082.5,483.7 1090.5,469.8 1098.5,469.4 1106.5,467.8" fill="none" stroke="#008080" stroke-width="3.00" stroke-linejoin="round" stroke-linecap="square" />
<polyline class="c" points="2.5,479.5 10.5,482.1 18.5,485.7 26.5,498.9 34.5,512.3 42.5,518.6 50.5,507.0 58.5,494.7 66.5,488.5 74.5,496.3 82.5,499.1 90.5,496.5 98.5,486.4 106.5,481.5 114.5,480.4 122.5,484.4 130.5,494.5 138.5,511.1 146.5,525.9 154.5,531.5 162.5,528.2 170.5,516.9 178.5,502.4 186.5,486.9 194.5,479.6 202.5,483.6 210.5,495.4 218.5,508.4 226.5,518.1 234.5,523.9 242.5,530.7 250.5,530.7 258.5,530.9 266.5,526.4 274.5,530.4 282.5,530.4 290.5,530.7 298.5,528.5 306.5,531.7 314.5,538.7 322.5,546.5 330.5,552.3 338.5,555.6 346.5,555.6 354.5,548.5 362.5,534.4 370.5,522.2 378.5,522.2 386.5,530.7 394.5,540.2 402.5,545.5 410.5,551.3 418.5,554.9 426.5,552.0 434.5,544.0 442.5,537.0 450.5,540.2 458.5,546.0 466.5,550.8 474.5,548.1 482.5,548.9 490.5,551.1 498.5,554.3 506.5,553.8 514.5,554.0 522.5,555.4 530.5,553.6 538.5,548.7 546.5,543.7 554.5,547.4 562.5,551.1 570.5,548.7 578.5,538.7 586.5,530.6 594.5,534.1 602.5,538.3 610.5,535.8 618.5,522.3 626.5,506.5 634.5,493.2 642.5,488.3 650.5,491.4 658.5,504.3 666.5,512.5 674.5,517.4 682.5,519.3 690.5,525.5 698.5,533.6 706.5,540.2 714.5,538.9 722.5,523.6 730.5,502.9 738.5,488.6 746.5,487.8 754.5,490.4 762.5,493.1 770.5,503.7 778.5,515.8 786.5,530.5 794.5,532.5 802.5,536.4 810.5,537.2 818.5,541.0 826.5,538.8 834.5,524.3 842.5,507.1 850.5,495.4 858.5,496.5 866.5,500.3 874.5,497.8 882.5,498.0 890.5,506.2 898.5,527.0 906.5,546.2 914.5,556.9 922.5,555.8 930.5,550.2 938.5,544.6 946.5,538.9 954.5,533.6 962.5,525.0 970.5,523.2 978.5,520.1 986.5,521.6 994.5,514.4 1002.5,506.1 1010.5,499.7 1018.5,501.4 1026.5,513.3 1034.5,521.2 1042.5,532.3 1050.5,538.2 1058.5,540.1 1066.5,531.7 1074.5,513.1 1082.5,497.6 1090.5,481.5 1098.5,474.3 1106.5,469.0" fill="none" stroke="#c00000" stroke-width="2.10" stroke-linejoin="round" stroke-linecap="square" />
<line class="c" x1="103.0" y1="478.6" x2="187.0" y2="475.4" stroke="#ff0000" stroke-width="3.0"/>
</g>
<line class="c" x1="3" y1="483.5" x2="1232" y2="483.5" stroke="#b4b4b4" stroke-width="1" stroke-dasharray="3 3" stroke-dashoffset="1"/>
<line class="c" x1="3" y1="545.5" x2="1232" y2="545.5" stroke="#b4b4b4" stroke-width="1" stroke-dasharray="3 3" stroke-dashoffset="1"/>
<clipPath id="c2"><rect x="3" y="569" width="1229" height="103"/></clipPath>
<g clip-path="url(#c2)">
<line class="c" x1="978.0" y1="628.6" x2="1099.0" y2="607.1" stroke="#ff0000" stroke-width="3.0"/>
<polyline class="c" points="2.5,589.8 10.5,589.8 18.5,597.3 26.5,603.0 34.5,599.4 42.5,597.7 50.5,593.7 58.5,596.0 66.5,603.7 74.5,603.7 82.5,587.8 90.5,592.0 98.5,592.0 106.5,592.0 114.5,597.7 122.5,598.0 130.5,599.0 138.5,598.1 146.5,608.7 154.5,607.4 162.5,605.4 170.5,602.3 178.5,601.7 186.5,600.4 194.5,603.0 202.5,605.9 210.5,605.9 218.5,605.0 226.5,610.5 234.5,609.6 242.5,611.9 250.5,608.7 258.5,613.2 266.5,616.9 274.5,616.6 282.5,615.6 290.5,615.6 298.5,620.6 306.5,621.1 314.5,623.3 322.5,626.4 330.5,628.6 338.5,628.8 346.5,628.8 354.5,622.6 362.5,625.1 370.5,631.9 378.5,631.9 386.5,634.1 394.5,637.7 402.5,645.4 410.5,647.1 418.5,652.7 426.5,636.8 434.5,640.1 442.5,645.4 450.5,647.0 458.5,636.8 466.5,640.1 474.5,640.1 482.5,644.1 490.5,641.1 498.5,640.7 506.5,644.1 514.5,647.0 522.5,647.0 530.5,640.7 538.5,642.7 546.5,644.1 554.5,645.8 562.5,645.8 570.5,638.8 578.5,642.7 586.5,642.7 594.5,642.7 602.5,638.8 610.5,634.7 618.5,635.8 626.5,630.2 634.5,624.2 642.5,628.8 650.5,628.8 658.5,625.8 666.5,625.8 674.5,628.6 682.5,628.8 690.5,629.5 698.5,629.8 706.5,629.5 714.5,624.2 722.5,620.6 730.5,622.6 738.5,621.5 746.5,620.6 754.5,618.9 762.5,619.9 770.5,627.8 778.5,621.5 786.5,625.8 794.5,624.9 802.5,624.9 810.5,628.8 818.5,625.1 826.5,624.9 834.5,612.9 842.5,612.9 850.5,619.6 858.5,614.9 866.5,612.3 874.5,611.6 882.5,618.9 890.5,624.5 898.5,626.8 906.5,632.8 914.5,640.1 922.5,635.8 930.5,637.4 938.5,637.4 946.5,630.5 954.5,633.7 962.5,631.1 970.5,630.8 978.5,628.8 986.5,631.9 994.5,622.9 1002.5,622.9 1010.5,630.8 1018.5,624.9 1026.5,625.8 1034.5,631.5 1042.5,632.8 1050.5,631.9 1058.5,623.7 1066.5,627.1 1074.5,620.5 1082.5,619.6 1090.5,616.2 1098.5,607.2 1106.5,607.0" fill="none" stroke="#1e90ff" stroke-width="2.10" stroke-linejoin="round" stroke-linecap="square" />
</g>
<line class="c" x1="3" y1="599.5" x2="1232" y2="599.5" stroke="#b4b4b4" stroke-width="1" stroke-dasharray="3 3" stroke-dashoffset="1"/>
<line class="c" x1="3" y1="620.5" x2="1232" y2="620.5" stroke="#b4b4b4" stroke-width="1" stroke-dasharray="3 3" stroke-dashoffset="1"/>
<line class="c" x1="3" y1="641.5" x2="1232" y2="641.5" stroke="#b4b4b4" stroke-width="1" stroke-dasharray="3 3" stroke-dashoffset="1"/>
<clipPath id="c3"><rect x="3" y="675" width="1229" height="104"/></clipPath>
<g clip-path="url(#c3)">
<g class="c">
<rect x="0" y="703" width="4" height="26" fill="#404040"/>
<rect x="8" y="701" width="4" height="28" fill="#404040"/>
<rect x="16" y="701" width="4" height="28" fill="#404040"/>
<rect x="24" y="702" width="4" height="27" fill="#404040"/>
<rect x="32" y="702" width="4" height="27" fill="#404040"/>
<rect x="40" y="701" width="4" height="28" fill="#404040"/>
<rect x="48" y="699" width="4" height="30" fill="#404040"/>
<rect x="56" y="699" width="4" height="30" fill="#404040"/>
<rect x="64" y="700" width="4" height="29" fill="#404040"/>
<rect x="72" y="701" width="4" height="28" fill="#404040"/>
<rect x="80" y="693" width="4" height="36" fill="#404040"/>
<rect x="88" y="689" width="4" height="40" fill="#404040"/>
<rect x="96" y="689" width="4" height="40" fill="#404040"/>
<rect x="104" y="689" width="4" height="40" fill="#404040"/>
<rect x="112" y="689" width="4" height="40" fill="#404040"/>
<rect x="120" y="689" width="4" height="40" fill="#404040"/>
<rect x="128" y="684" width="4" height="45" fill="#404040"/>
<rect x="136" y="684" width="4" height="45" fill="#404040"/>
<rect x="144" y="685" width="4" height="44" fill="#404040"/>
<rect x="152" y="690" width="4" height="39" fill="#404040"/>
<rect x="160" y="691" width="4" height="38" fill="#404040"/>
<rect x="168" y="691" width="4" height="38" fill="#404040"/>
<rect x="176" y="691" width="4" height="38" fill="#404040"/>
<rect x="184" y="691" width="4" height="38" fill="#404040"/>
<rect x="192" y="692" width="4" height="37" fill="#404040"/>
<rect x="200" y="694" width="4" height="35" fill="#404040"/>
<rect x="208" y="695" width="4" height="34" fill="#404040"/>
<rect x="216" y="697" width="4" height="32" fill="#404040"/>
<rect x="224" y="699" width="4" height="30" fill="#404040"/>
<rect x="232" y="701" width="4" height="28" fill="#404040"/>
<rect x="240" y="703" width="4" height="26" fill="#404040"/>
<rect x="248" y="704" width="4" height="25" fill="#404040"/>
<rect x="256" y="706" width="4" height="23" fill="#404040"/>
<rect x="264" y="709" width="4" height="20" fill="#404040"/>
<rect x="272" y="711" width="4" height="18" fill="#404040"/>
<rect x="280" y="712" width="4" height="17" fill="#404040"/>
<rect x="288" y="714" width="4" height="15" fill="#404040"/>
<rect x="296" y="716" width="4" height="13" fill="#404040"/>
<rect x="304" y="718" width="4" height="11" fill="#404040"/>
<rect x="312" y="719" width="4" height="10" fill="#404040"/>
<rect x="320" y="721" width="4" height="8" fill="#404040"/>
<rect x="328" y="723" width="4" height="6" fill="#404040"/>
<rect x="336" y="725" width="4" height="4" fill="#404040"/>
<rect x="344" y="727" width="4" height="2" fill="#404040"/>
<rect x="352" y="727" width="4" height="2" fill="#404040"/>
<rect x="376" y="728" width="4" height="4" fill="#404040"/>
<rect x="384" y="728" width="4" height="5" fill="#404040"/>
<rect x="392" y="728" width="4" height="7" fill="#404040"/>
<rect x="400" y="728" width="4" height="10" fill="#404040"/>
<rect x="408" y="728" width="4" height="13" fill="#404040"/>
<rect x="416" y="728" width="4" height="18" fill="#404040"/>
<rect x="424" y="728" width="4" height="19" fill="#404040"/>
<rect x="432" y="728" width="4" height="21" fill="#404040"/>
<rect x="440" y="728" width="4" height="25" fill="#404040"/>
<rect x="448" y="728" width="4" height="28" fill="#404040"/>
<rect x="456" y="728" width="4" height="29" fill="#404040"/>
<rect x="464" y="728" width="4" height="30" fill="#404040"/>
<rect x="472" y="728" width="4" height="32" fill="#404040"/>
<rect x="480" y="728" width="4" height="34" fill="#404040"/>
<rect x="488" y="728" width="4" height="35" fill="#404040"/>
<rect x="496" y="728" width="4" height="35" fill="#404040"/>
<rect x="504" y="728" width="4" height="37" fill="#404040"/>
<rect x="512" y="728" width="4" height="39" fill="#404040"/>
<rect x="520" y="728" width="4" height="41" fill="#404040"/>
<rect x="528" y="728" width="4" height="40" fill="#404040"/>
<rect x="536" y="728" width="4" height="41" fill="#404040"/>
<rect x="544" y="728" width="4" height="41" fill="#404040"/>
<rect x="552" y="728" width="4" height="42" fill="#404040"/>
<rect x="560" y="728" width="4" height="43" fill="#404040"/>
<rect x="568" y="728" width="4" height="42" fill="#404040"/>
<rect x="576" y="728" width="4" height="41" fill="#404040"/>
<rect x="584" y="728" width="4" height="41" fill="#404040"/>
<rect x="592" y="728" width="4" height="41" fill="#404040"/>
<rect x="600" y="728" width="4" height="41" fill="#404040"/>
<rect x="608" y="728" width="4" height="37" fill="#404040"/>
<rect x="616" y="728" width="4" height="36" fill="#404040"/>
<rect x="624" y="728" width="4" height="33" fill="#404040"/>
<rect x="632" y="728" width="4" height="29" fill="#404040"/>
<rect x="640" y="728" width="4" height="27" fill="#404040"/>
<rect x="648" y="728" width="4" height="26" fill="#404040"/>
<rect x="656" y="728" width="4" height="23" fill="#404040"/>
<rect x="664" y="728" width="4" height="22" fill="#404040"/>
<rect x="672" y="728" width="4" height="20" fill="#404040"/>
<rect x="680" y="728" width="4" height="19" fill="#404040"/>
<rect x="688" y="728" width="4" height="19" fill="#404040"/>
<rect x="696" y="728" width="4" height="18" fill="#404040"/>
<rect x="704" y="728" width="4" height="17" fill="#404040"/>
<rect x="712" y="728" width="4" height="16" fill="#404040"/>
<rect x="720" y="728" width="4" height="13" fill="#404040"/>
<rect x="728" y="728" width="4" height="12" fill="#404040"/>
<rect x="736" y="728" width="4" height="11" fill="#404040"/>
<rect x="744" y="728" width="4" height="10" fill="#404040"/>
<rect x="752" y="728" width="4" height="8" fill="#404040"/>
<rect x="760" y="728" width="4" height="7" fill="#404040"/>
<rect x="768" y="728" width="4" height="8" fill="#404040"/>
<rect x="776" y="728" width="4" height="7" fill="#404040"/>
<rect x="784" y="728" width="4" height="7" fill="#404040"/>
<rect x="792" y="728" width="4" height="7" fill="#404040"/>
<rect x="800" y="728" width="4" height="7" fill="#404040"/>
<rect x="808" y="728" width="4" height="7" fill="#404040"/>
<rect x="816" y="728" width="4" height="7" fill="#404040"/>
<rect x="824" y="728" width="4" height="6" fill="#404040"/>
<rect x="832" y="728" width="4" height="5" fill="#404040"/>
<rect x="840" y="728" width="4" height="3" fill="#404040"/>
<rect x="848" y="728" width="4" height="2" fill="#404040"/>
<rect x="864" y="727" width="4" height="2" fill="#404040"/>
<rect x="872" y="726" width="4" height="3" fill="#404040"/>
<rect x="880" y="726" width="4" height="3" fill="#404040"/>
<rect x="888" y="727" width="4" height="2" fill="#404040"/>
<rect x="904" y="728" width="4" height="4" fill="#404040"/>
<rect x="912" y="728" width="4" height="8" fill="#404040"/>
<rect x="920" y="728" width="4" height="10" fill="#404040"/>
<rect x="928" y="728" width="4" height="13" fill="#404040"/>
<rect x="936" y="728" width="4" height="15" fill="#404040"/>
<rect x="944" y="728" width="4" height="15" fill="#404040"/>
<rect x="952" y="728" width="4" height="16" fill="#404040"/>
<rect x="960" y="728" width="4" height="16" fill="#404040"/>
<rect x="968" y="728" width="4" height="16" fill="#404040"/>
<rect x="976" y="728" width="4" height="15" fill="#404040"/>
<rect x="984" y="728" width="4" height="15" fill="#404040"/>
<rect x="992" y="728" width="4" height="15" fill="#404040"/>
<rect x="1000" y="728" width="4" height="13" fill="#404040"/>
<rect x="1008" y="728" width="4" height="14" fill="#404040"/>
<rect x="1016" y="728" width="4" height="13" fill="#404040"/>
<rect x="1024" y="728" width="4" height="13" fill="#404040"/>
<rect x="1032" y="728" width="4" height="13" fill="#404040"/>
<rect x="1040" y="728" width="4" height="13" fill="#404040"/>
<rect x="1048" y="728" width="4" height="13" fill="#404040"/>
<rect x="1056" y="728" width="4" height="13" fill="#404040"/>
<rect x="1064" y="728" width="4" height="13" fill="#404040"/>
<rect x="1072" y="728" width="4" height="11" fill="#404040"/>
<rect x="1080" y="728" width="4" height="10" fill="#404040"/>
<rect x="1088" y="728" width="4" height="8" fill="#404040"/>
<rect x="1096" y="728" width="4" height="2" fill="#404040"/>
<rect x="1104" y="727" width="4" height="2" fill="#404040"/>
</g>
<line class="c" x1="3" y1="728.5" x2="1232" y2="728.5" stroke="#dcdcdc" stroke-width="1" stroke-dasharray="3 3" stroke-dashoffset="1"/>
<polyline class="c" points="2.5,716.3 10.5,713.0 18.5,710.3 26.5,708.3 34.5,706.4 42.5,704.4 50.5,703.3 58.5,702.4 66.5,701.4 74.5,701.1 82.5,700.4 90.5,698.4 98.5,697.5 106.5,695.1 114.5,693.5 122.5,691.8 130.5,689.5 138.5,687.1 146.5,686.1 154.5,686.1 162.5,686.1 170.5,686.1 178.5,687.1 186.5,687.8 194.5,689.1 202.5,690.1 210.5,690.9 218.5,693.1 226.5,694.0 234.5,695.1 242.5,696.2 250.5,698.1 258.5,699.1 266.5,701.1 274.5,703.0 282.5,705.0 290.5,707.0 298.5,708.1 306.5,710.1 314.5,712.0 322.5,714.0 330.5,716.0 338.5,718.0 346.5,718.9 354.5,720.9 362.5,723.6 370.5,724.2 378.5,726.2 386.5,726.9 394.5,729.8 402.5,730.2 410.5,732.2 418.5,734.2 426.5,736.2 434.5,738.1 442.5,741.2 450.5,743.2 458.5,746.1 466.5,749.1 474.5,751.1 482.5,753.1 490.5,755.1 498.5,757.1 506.5,759.1 514.5,760.7 522.5,762.4 530.5,763.3 538.5,764.4 546.5,765.3 554.5,766.4 562.5,767.7 570.5,767.9 578.5,767.9 586.5,767.9 594.5,767.9 602.5,767.9 610.5,767.9 618.5,767.7 626.5,766.0 634.5,765.0 642.5,762.9 650.5,761.1 658.5,759.1 666.5,757.3 674.5,755.0 682.5,753.1 690.5,751.1 698.5,750.1 706.5,748.1 714.5,747.1 722.5,746.1 730.5,744.1 738.5,743.0 746.5,742.1 754.5,741.1 762.5,739.5 770.5,738.4 778.5,737.5 786.5,736.2 794.5,735.1 802.5,734.8 810.5,734.8 818.5,734.6 826.5,733.8 834.5,733.5 842.5,733.5 850.5,732.6 858.5,732.2 866.5,731.5 874.5,731.3 882.5,730.3 890.5,729.3 898.5,728.9 906.5,727.8 914.5,729.5 922.5,729.9 930.5,731.1 938.5,733.0 946.5,733.9 954.5,736.1 962.5,738.0 970.5,740.1 978.5,741.1 986.5,741.8 994.5,741.8 1002.5,741.8 1010.5,741.8 1018.5,741.8 1026.5,741.5 1034.5,740.9 1042.5,740.9 1050.5,740.9 1058.5,740.9 1066.5,740.9 1074.5,740.9 1082.5,740.4 1090.5,739.9 1098.5,739.3 1106.5,737.8" fill="none" stroke="#c00000" stroke-width="2.10" stroke-linejoin="round" stroke-linecap="square" />
</g>
<g class="c" fill="none" stroke="#000" stroke-width="1">
<rect x="2.5" y="2.5" width="1230" height="458"/>
<rect x="2.5" y="462.5" width="1230" height="104"/>
<rect x="2.5" y="568.5" width="1230" height="104"/>
<rect x="2.5" y="674.5" width="1230" height="105"/>
</g>
<g class="c">
<rect x="1233" y="11" width="4" height="1" fill="#000"/>
<rect x="1233" y="43" width="4" height="1" fill="#000"/>
<rect x="1233" y="75" width="4" height="1" fill="#000"/>
<rect x="1233" y="107" width="4" height="1" fill="#000"/>
<rect x="1233" y="139" width="4" height="1" fill="#000"/>
<rect x="1233" y="171" width="4" height="1" fill="#000"/>
<rect x="1233" y="203" width="4" height="1" fill="#000"/>
<rect x="1233" y="236" width="4" height="1" fill="#000"/>
<rect x="1233" y="268" width="4" height="1" fill="#000"/>
<rect x="1233" y="300" width="4" height="1" fill="#000"/>
<rect x="1233" y="332" width="4" height="1" fill="#000"/>
<rect x="1233" y="364" width="4" height="1" fill="#000"/>
<rect x="1233" y="396" width="4" height="1" fill="#000"/>
<rect x="1233" y="428" width="4" height="1" fill="#000"/>
<rect x="1233" y="463" width="4" height="1" fill="#000"/>
<rect x="1233" y="483" width="4" height="1" fill="#000"/>
<rect x="1233" y="545" width="4" height="1" fill="#000"/>
<rect x="1233" y="565" width="4" height="1" fill="#000"/>
<rect x="1233" y="569" width="4" height="1" fill="#000"/>
<rect x="1233" y="599" width="4" height="1" fill="#000"/>
<rect x="1233" y="620" width="4" height="1" fill="#000"/>
<rect x="1233" y="641" width="4" height="1" fill="#000"/>
<rect x="1233" y="671" width="4" height="1" fill="#000"/>
<rect x="1233" y="675" width="4" height="1" fill="#000"/>
<rect x="1233" y="778" width="4" height="1" fill="#000"/>
</g>
<text x="1237.6" y="15.0" textLength="27.8" lengthAdjust="spacingAndGlyphs">562.40</text>
<text x="1237.6" y="47.0" textLength="27.8" lengthAdjust="spacingAndGlyphs">558.50</text>
<text x="1237.6" y="79.0" textLength="27.8" lengthAdjust="spacingAndGlyphs">554.60</text>
<text x="1237.6" y="111.0" textLength="27.8" lengthAdjust="spacingAndGlyphs">550.70</text>
<text x="1237.6" y="143.0" textLength="27.8" lengthAdjust="spacingAndGlyphs">546.80</text>
<text x="1237.6" y="175.0" textLength="27.8" lengthAdjust="spacingAndGlyphs">542.90</text>
<text x="1237.6" y="207.0" textLength="27.8" lengthAdjust="spacingAndGlyphs">539.00</text>
<text x="1237.6" y="240.0" textLength="27.8" lengthAdjust="spacingAndGlyphs">535.10</text>
<text x="1237.6" y="272.0" textLength="27.8" lengthAdjust="spacingAndGlyphs">531.20</text>
<text x="1237.6" y="304.0" textLength="27.8" lengthAdjust="spacingAndGlyphs">527.30</text>
<text x="1237.6" y="336.0" textLength="27.8" lengthAdjust="spacingAndGlyphs">523.40</text>
<text x="1237.6" y="368.0" textLength="27.8" lengthAdjust="spacingAndGlyphs">519.50</text>
<text x="1237.6" y="400.0" textLength="27.8" lengthAdjust="spacingAndGlyphs">515.60</text>
<text x="1237.6" y="432.0" textLength="27.8" lengthAdjust="spacingAndGlyphs">511.70</text>
<text x="1237.6" y="471.0" textLength="27.8" lengthAdjust="spacingAndGlyphs">100.00</text>
<text x="1237.6" y="487.0" textLength="22.7" lengthAdjust="spacingAndGlyphs">80.00</text>
<text x="1237.6" y="549.0" textLength="22.7" lengthAdjust="spacingAndGlyphs">20.00</text>
<text x="1237.6" y="564.0" textLength="17.7" lengthAdjust="spacingAndGlyphs">0.00</text>
<text x="1237.6" y="577.0" textLength="27.8" lengthAdjust="spacingAndGlyphs">100.00</text>
<text x="1237.6" y="603.0" textLength="22.7" lengthAdjust="spacingAndGlyphs">70.00</text>
<text x="1237.6" y="624.0" textLength="22.7" lengthAdjust="spacingAndGlyphs">50.00</text>
<text x="1237.6" y="645.0" textLength="22.7" lengthAdjust="spacingAndGlyphs">30.00</text>
<text x="1237.6" y="670.0" textLength="17.7" lengthAdjust="spacingAndGlyphs">0.00</text>
<text x="1237.6" y="683.0" textLength="27.8" lengthAdjust="spacingAndGlyphs">10.441</text>
<text x="1237.6" y="731.0" textLength="22.7" lengthAdjust="spacingAndGlyphs">0.000</text>
<text x="1237.6" y="777.0" textLength="25.8" lengthAdjust="spacingAndGlyphs">-9.953</text>
<rect class="c" x="1235" y="330" width="34" height="11" fill="#cc0000"/>
<text x="1237.6" y="339.0" textLength="27.8" lengthAdjust="spacingAndGlyphs" style="fill:#fff;stroke:#fff">523.05</text>
<g class="c">
<rect x="2" y="780" width="1" height="4" fill="#000"/>
<rect x="66" y="780" width="1" height="4" fill="#000"/>
<rect x="130" y="780" width="1" height="4" fill="#000"/>
<rect x="194" y="780" width="1" height="4" fill="#000"/>
<rect x="258" y="780" width="1" height="4" fill="#000"/>
<rect x="322" y="780" width="1" height="4" fill="#000"/>
<rect x="386" y="780" width="1" height="4" fill="#000"/>
<rect x="450" y="780" width="1" height="4" fill="#000"/>
<rect x="514" y="780" width="1" height="4" fill="#000"/>
<rect x="578" y="780" width="1" height="4" fill="#000"/>
<rect x="642" y="780" width="1" height="4" fill="#000"/>
<rect x="706" y="780" width="1" height="4" fill="#000"/>
<rect x="770" y="780" width="1" height="4" fill="#000"/>
<rect x="834" y="780" width="1" height="4" fill="#000"/>
<rect x="898" y="780" width="1" height="4" fill="#000"/>
<rect x="962" y="780" width="1" height="4" fill="#000"/>
<rect x="1026" y="780" width="1" height="4" fill="#000"/>
<rect x="1090" y="780" width="1" height="4" fill="#000"/>
</g>
<text x="1.5" y="792.0" textLength="9.9" lengthAdjust="spacingAndGlyphs">30</text>
<text x="14.5" y="792.0" textLength="17.9" lengthAdjust="spacingAndGlyphs">Nov</text>
<text x="36.1" y="792.0" textLength="19.6" lengthAdjust="spacingAndGlyphs">2025</text>
<text x="65.5" y="792.0" textLength="9.9" lengthAdjust="spacingAndGlyphs">30</text>
<text x="78.5" y="792.0" textLength="17.9" lengthAdjust="spacingAndGlyphs">Nov</text>
<text x="100.5" y="792.0" textLength="21.9" lengthAdjust="spacingAndGlyphs">16:00</text>
<text x="129.5" y="792.0" textLength="9.9" lengthAdjust="spacingAndGlyphs">30</text>
<text x="142.5" y="792.0" textLength="17.9" lengthAdjust="spacingAndGlyphs">Nov</text>
<text x="164.5" y="792.0" textLength="21.9" lengthAdjust="spacingAndGlyphs">18:00</text>
<text x="193.5" y="792.0" textLength="9.9" lengthAdjust="spacingAndGlyphs">30</text>
<text x="206.5" y="792.0" textLength="17.9" lengthAdjust="spacingAndGlyphs">Nov</text>
<text x="228.5" y="792.0" textLength="21.9" lengthAdjust="spacingAndGlyphs">20:00</text>
<text x="257.5" y="792.0" textLength="9.9" lengthAdjust="spacingAndGlyphs">30</text>
<text x="270.5" y="792.0" textLength="17.9" lengthAdjust="spacingAndGlyphs">Nov</text>
<text x="292.5" y="792.0" textLength="21.9" lengthAdjust="spacingAndGlyphs">22:00</text>
<text x="322.5" y="792.0" textLength="3.9" lengthAdjust="spacingAndGlyphs">1</text>
<text x="329.5" y="792.0" textLength="15.9" lengthAdjust="spacingAndGlyphs">Dec</text>
<text x="348.5" y="792.0" textLength="22.9" lengthAdjust="spacingAndGlyphs">00:00</text>
<text x="386.5" y="792.0" textLength="3.9" lengthAdjust="spacingAndGlyphs">1</text>
<text x="393.5" y="792.0" textLength="15.9" lengthAdjust="spacingAndGlyphs">Dec</text>
<text x="412.5" y="792.0" textLength="22.9" lengthAdjust="spacingAndGlyphs">02:00</text>
<text x="450.5" y="792.0" textLength="3.9" lengthAdjust="spacingAndGlyphs">1</text>
<text x="457.5" y="792.0" textLength="15.9" lengthAdjust="spacingAndGlyphs">Dec</text>
<text x="476.5" y="792.0" textLength="22.9" lengthAdjust="spacingAndGlyphs">04:00</text>
<text x="514.5" y="792.0" textLength="3.9" lengthAdjust="spacingAndGlyphs">1</text>
<text x="521.5" y="792.0" textLength="15.9" lengthAdjust="spacingAndGlyphs">Dec</text>
<text x="540.5" y="792.0" textLength="22.9" lengthAdjust="spacingAndGlyphs">06:00</text>
<text x="578.5" y="792.0" textLength="3.9" lengthAdjust="spacingAndGlyphs">1</text>
<text x="585.5" y="792.0" textLength="15.9" lengthAdjust="spacingAndGlyphs">Dec</text>
<text x="604.5" y="792.0" textLength="22.9" lengthAdjust="spacingAndGlyphs">08:00</text>
<text x="642.5" y="792.0" textLength="3.9" lengthAdjust="spacingAndGlyphs">1</text>
<text x="649.5" y="792.0" textLength="15.9" lengthAdjust="spacingAndGlyphs">Dec</text>
<text x="668.5" y="792.0" textLength="22.9" lengthAdjust="spacingAndGlyphs">10:00</text>
<text x="706.5" y="792.0" textLength="3.9" lengthAdjust="spacingAndGlyphs">1</text>
<text x="713.5" y="792.0" textLength="15.9" lengthAdjust="spacingAndGlyphs">Dec</text>
<text x="732.5" y="792.0" textLength="22.9" lengthAdjust="spacingAndGlyphs">12:00</text>
<text x="770.5" y="792.0" textLength="3.9" lengthAdjust="spacingAndGlyphs">1</text>
<text x="777.5" y="792.0" textLength="15.9" lengthAdjust="spacingAndGlyphs">Dec</text>
<text x="796.5" y="792.0" textLength="22.9" lengthAdjust="spacingAndGlyphs">14:00</text>
<text x="834.5" y="792.0" textLength="3.9" lengthAdjust="spacingAndGlyphs">1</text>
<text x="841.5" y="792.0" textLength="15.9" lengthAdjust="spacingAndGlyphs">Dec</text>
<text x="860.5" y="792.0" textLength="22.9" lengthAdjust="spacingAndGlyphs">16:00</text>
<text x="898.5" y="792.0" textLength="3.9" lengthAdjust="spacingAndGlyphs">1</text>
<text x="905.5" y="792.0" textLength="15.9" lengthAdjust="spacingAndGlyphs">Dec</text>
<text x="924.5" y="792.0" textLength="22.9" lengthAdjust="spacingAndGlyphs">18:00</text>
<text x="962.5" y="792.0" textLength="3.9" lengthAdjust="spacingAndGlyphs">1</text>
<text x="969.5" y="792.0" textLength="15.9" lengthAdjust="spacingAndGlyphs">Dec</text>
<text x="988.5" y="792.0" textLength="22.9" lengthAdjust="spacingAndGlyphs">20:00</text>
<text x="1026.5" y="792.0" textLength="3.9" lengthAdjust="spacingAndGlyphs">1</text>
<text x="1033.5" y="792.0" textLength="15.9" lengthAdjust="spacingAndGlyphs">Dec</text>
<text x="1052.5" y="792.0" textLength="22.9" lengthAdjust="spacingAndGlyphs">22:00</text>
<text x="1089.5" y="792.0" textLength="4.9" lengthAdjust="spacingAndGlyphs">2</text>
<text x="1097.5" y="792.0" textLength="15.9" lengthAdjust="spacingAndGlyphs">Dec</text>
<text x="1116.5" y="792.0" textLength="22.9" lengthAdjust="spacingAndGlyphs">00:00</text>
<rect class="c" x="4" y="467" width="107" height="10" fill="#fff"/>
<rect class="c" x="4" y="573" width="63" height="10" fill="#fff"/>
<rect class="c" x="4" y="679" width="126" height="10" fill="#fff"/>
<text x="5.3" y="475.0" textLength="23.3" lengthAdjust="spacingAndGlyphs">Stoch</text>
<text x="28.3" y="475.0" textLength="27.1" lengthAdjust="spacingAndGlyphs">(5,3,3)</text>
<text x="58.4" y="475.0" textLength="22.8" lengthAdjust="spacingAndGlyphs">95.50</text>
<text x="84.5" y="475.0" textLength="22.9" lengthAdjust="spacingAndGlyphs">94.02</text>
<text x="5.4" y="581.0" textLength="15.9" lengthAdjust="spacingAndGlyphs">RSI</text>
<text x="21.4" y="581.0" textLength="16.2" lengthAdjust="spacingAndGlyphs">(14)</text>
<text x="40.1" y="581.0" textLength="23.4" lengthAdjust="spacingAndGlyphs">62.35</text>
<text x="5.4" y="687.0" textLength="29.1" lengthAdjust="spacingAndGlyphs">MACD</text>
<text x="34.5" y="687.0" textLength="37.1" lengthAdjust="spacingAndGlyphs">(12,29,9)</text>
<text x="74.2" y="687.0" textLength="23.1" lengthAdjust="spacingAndGlyphs">0.211</text>
<text x="100.1" y="687.0" textLength="26.6" lengthAdjust="spacingAndGlyphs">-1.812</text>
</svg></body></html>
